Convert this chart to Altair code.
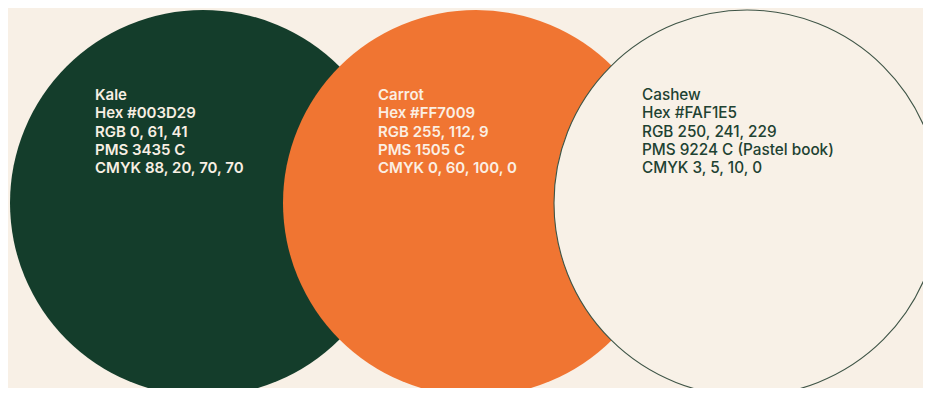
import altair as alt
import pandas as pd

# swatch data
names = ["Kale", "Carrot", "Cashew"]
fills = ["#143D2B", "#F07532", "#F8F1E7"]
strokes = ["#143D2B", "#F07532", "#3E5446"]
stroke_widths = [0, 0, 1.1]
center_x = [195, 468, 739]
center_y = [195, 195, 195]
text_x = [87, 370, 634]
text_colors = ["#F8EFE3", "#FBEFE3", "#1E4232"]
text_weights = [600, 600, 500]
text_sizes = [15, 15, 15.3]
lines = [
    ["Kale", "Hex #003D29", "RGB 0, 61, 41", "PMS 3435 C", "CMYK 88, 20, 70, 70"],
    ["Carrot", "Hex #FF7009", "RGB 255, 112, 9", "PMS 1505 C", "CMYK 0, 60, 100, 0"],
    ["Cashew", "Hex #FAF1E5", "RGB 250, 241, 229", "PMS 9224 C (Pastel book)", "CMYK 3, 5, 10, 0"],
]

W, H = 915, 380
DIAM = 386
LINE_TOP = 92
LINE_STEP = 18.3

circles = pd.DataFrame({
    "name": names, "fill": fills, "stroke": strokes, "sw": stroke_widths,
    "x": center_x, "y": center_y, "order": [0, 1, 2],
})

rows = []
for i, n in enumerate(names):
    for j, t in enumerate(lines[i]):
        rows.append({"name": n, "text": t, "x": text_x[i], "y": LINE_TOP + LINE_STEP * j})
texts = pd.DataFrame(rows)

xs = alt.Scale(domain=[0, W], nice=False, zero=False)
ys = alt.Scale(domain=[0, H], nice=False, zero=False, reverse=True)

circ = alt.Chart(circles).mark_circle(opacity=1).encode(
    x=alt.X("x:Q", scale=xs, axis=None),
    y=alt.Y("y:Q", scale=ys, axis=None),
    size=alt.value(DIAM * DIAM),
    fill=alt.Color("fill:N", scale=None),
    stroke=alt.Color("stroke:N", scale=None),
    strokeWidth=alt.StrokeWidth("sw:Q", scale=None),
    order=alt.Order("order:Q"),
)

layers = []
for i, n in enumerate(names):
    sub = texts[texts["name"] == n]
    layers.append(
        alt.Chart(sub).mark_text(
            align="left", baseline="alphabetic", font="Inter", fontSize=text_sizes[i],
            fontWeight=text_weights[i], color=text_colors[i],
        ).encode(
            x=alt.X("x:Q", scale=xs, axis=None),
            y=alt.Y("y:Q", scale=ys, axis=None),
            text="text:N",
        )
    )

chart = alt.layer(circ, *layers).properties(
    width=W, height=H, background="#F8F0E6", padding=0,
    autosize=alt.AutoSizeParams(type="none"),
).configure_view(stroke=None, fill="#F8F0E6")

chart.save("out.html", embed_options={"renderer": "svg", "actions": False})
